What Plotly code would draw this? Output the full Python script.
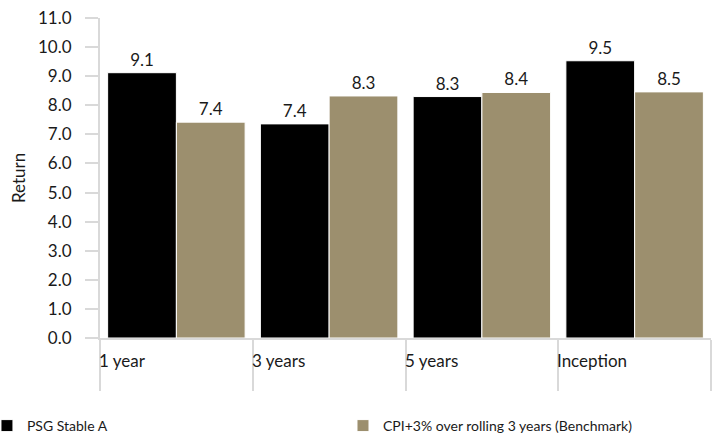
import plotly.graph_objects as go

categories = ["1 year", "3 years", "5 years", "Inception"]
psg = [9.12, 7.36, 8.30, 9.53]
bench = [7.42, 8.32, 8.44, 8.46]
series_names = ["PSG Stable A", "CPI+3% over rolling 3 years (Benchmark)"]
y_ticks = [0, 1, 2, 3, 4, 5, 6, 7, 8, 9, 10, 11]

FONT = "Lato, 'Open Sans', sans-serif"
TXT = "#1a1a1a"
GRID = "#d9d9d9"

xpos = list(range(len(categories)))
bounds = [i - 0.5 for i in range(len(categories) + 1)]

fig = go.Figure()
fig.add_trace(go.Bar(
    x=xpos, y=psg, name=series_names[0], legend="legend",
    marker=dict(color="#000000", line=dict(color="white", width=1)),
    text=psg, texttemplate="%{y:.1f}", textposition="outside",
    textfont=dict(size=17, color=TXT, family=FONT), cliponaxis=False,
))
fig.add_trace(go.Bar(
    x=xpos, y=bench, name=series_names[1], legend="legend2",
    marker=dict(color="#9c8f6e", line=dict(color="white", width=1)),
    text=bench, texttemplate="%{y:.1f}", textposition="outside",
    textfont=dict(size=17, color=TXT, family=FONT), cliponaxis=False,
))

for i, c in enumerate(categories):
    fig.add_annotation(x=bounds[i], y=0, xref="x", yref="y", text=c,
                       showarrow=False, xanchor="left", yanchor="middle",
                       xshift=-3, yshift=-22,
                       font=dict(size=17, color=TXT, family=FONT))

legend_common = dict(orientation="h", xanchor="left", y=-0.275, yanchor="middle",
                     font=dict(size=14, color=TXT, family=FONT), itemclick=False)

fig.update_layout(
    width=724, height=435,
    margin=dict(l=100, r=13, t=18, b=97, autoexpand=False),
    paper_bgcolor="white", plot_bgcolor="white",
    barmode="group", bargap=0.1, bargroupgap=0,
    font=dict(family=FONT, color=TXT),
    showlegend=True,
    legend=dict(x=-0.185, **legend_common),
    legend2=dict(x=0.3977, **legend_common),
    xaxis=dict(range=[-0.5, 3.5], tickvals=bounds, showticklabels=False,
               ticks="outside", ticklen=51, tickcolor=GRID, tickwidth=2,
               showline=True, linecolor=GRID, linewidth=2, showgrid=False,
               zeroline=False, automargin=False),
    yaxis=dict(range=[0, 11], tickvals=y_ticks, tickformat=".1f",
               ticks="outside", ticklen=13, tickcolor=GRID, tickwidth=2,
               ticklabelstandoff=10,
               showline=True, linecolor=GRID, linewidth=2, showgrid=False,
               zeroline=False, automargin=False,
               tickfont=dict(size=17, color=TXT, family=FONT),
               title=dict(text="Return", font=dict(size=17, color=TXT, family=FONT), standoff=8)),
)

fig.write_html("out.html", config={"displayModeBar": False},
               post_script="document.body.style.margin='0';document.body.style.overflow='hidden';")
